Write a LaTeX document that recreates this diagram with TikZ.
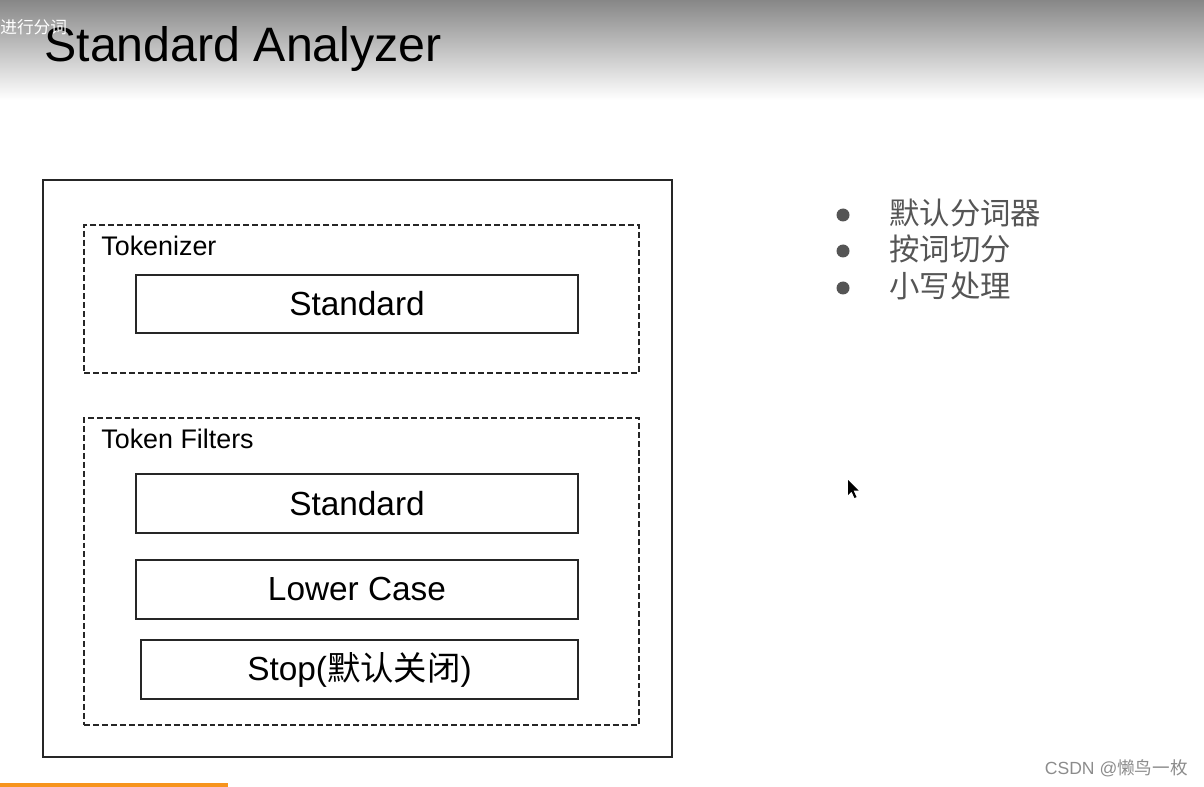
\documentclass[tikz,border=0pt]{standalone}
\usepackage{fontspec}
\setmainfont{Liberation Sans}
\newfontfamily\cjk{Noto Sans CJK SC}
\usepackage{tikz}
\usetikzlibrary{shapes.geometric}
\usetikzlibrary{positioning}
\definecolor{barorange}{HTML}{F7941D}
\definecolor{bulletgray}{HTML}{555555}
\tikzset{
	outerbox/.style={shape=rectangle, draw=black!85, line width=1.1pt, inner sep=0pt},
	groupbox/.style={shape=rectangle, draw=black!85, line width=1.1pt, dash pattern=on 3.4pt off 1.7pt, inner sep=0pt, minimum width=11.1cm},
	stagebox/.style={shape=rectangle, draw=black!85, line width=1.1pt, inner sep=0pt, minimum width=8.84cm, font=\fontsize{19}{23}\selectfont},
	grouplabel/.style={anchor=west, inner sep=0pt, font=\fontsize{15.3}{18}\selectfont},
	bulletitem/.style={anchor=west, inner sep=0pt, text=bulletgray, font=\cjk\fontsize{17.3}{20}\selectfont},
}
\begin{document}
\begin{tikzpicture}[x=0.02cm, y=-0.02cm]
		\useasboundingbox (0,0) rectangle (1204,787);
		\shade[top color=black!47, bottom color=white] (0,0) rectangle (1204,100);
		\node[anchor=base west, inner sep=0pt, font=\fontsize{27.5}{32}\selectfont] (title) at (44,62) {Standard Analyzer};
		\node[anchor=west, inner sep=0pt, text=white, font=\cjk\fontsize{9.5}{11}\selectfont] (caption) at (0,27) {进行分词};
		% analyzer boxes
		\node[outerbox, minimum width=12.58cm, minimum height=11.54cm] (analyzer) at (357.5,468.5) {};
		\node[groupbox, minimum height=2.96cm] (tokenizer) at (361.5,299) {};
		\node[grouplabel] (tokenizerlabel) at (101,246) {Tokenizer};
		\node[stagebox, minimum height=1.16cm] (std) at (357,304) {Standard};
		\node[groupbox, minimum height=6.14cm] (filters) at (361.5,571.5) {};
		\node[grouplabel] (filterslabel) at (101,439) {Token Filters};
		\node[stagebox, minimum height=1.18cm] (stdfilter) at (357,503.5) {Standard};
		\node[stagebox, minimum height=1.18cm] (lower) at (357,589.5) {Lower Case};
		\node[stagebox, minimum height=1.18cm, minimum width=8.74cm] (stop) at (359.5,669.5) {Stop({\cjk 默认关闭})};
		% notes
		\foreach \y/\txt [count=\i] in {215/默认分词器, 251/按词切分, 288/小写处理} {
			\fill[bulletgray] (843,\y) circle (6.5);
			\node[bulletitem] (note\i) at (889,\y-2) {\txt};
		}
		% pointer
		\fill[black] (848,480) -- (848,495) -- (851.5,491.5) -- (854.5,498) -- (856.5,497) -- (853.5,490.5) -- (858.5,490.5) -- cycle;
		% footer
		\fill[barorange] (0,783) rectangle (228,787);
		\node[anchor=east, inner sep=0pt, text=black!45, font=\fontsize{10}{12}\selectfont] (mark) at (1188,768) {CSDN @{\cjk 懒鸟一枚}};
	\end{tikzpicture}
\end{document}
